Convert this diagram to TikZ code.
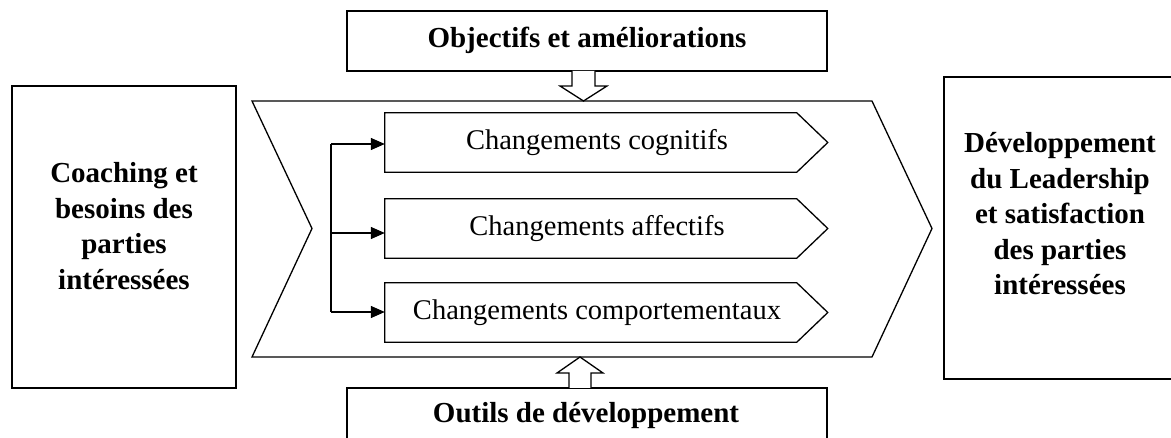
\documentclass[tikz,border=0pt]{standalone}
\usepackage{fontspec}
\setmainfont{Liberation Serif}
\usetikzlibrary{arrows.meta,calc}
\begin{document}
\begin{tikzpicture}[x=1pt,y=-1pt,
  lw/.style={line width=1.3pt},
  boxnode/.style={draw,lw,rectangle,inner sep=0pt},
  txt/.style={font=\fontsize{28.5}{35.5}\selectfont,align=center,inner sep=0pt},
  btxt/.style={txt,font=\fontsize{29}{35.5}\selectfont\bfseries},
  inner/.style={rectangle,inner sep=0pt,minimum width=424pt,minimum height=59pt,font=\fontsize{28.5}{35.5}\selectfont},
  hollow/.style={draw,lw,fill=white,line join=miter},
  arr/.style={lw,-{Triangle[length=14pt,width=12pt]}}
]
\useasboundingbox (0,0) rectangle (1171,438);
\fill[white] (0,0) rectangle (1171,438);

% outer boxes
\node[boxnode,minimum width=480pt,minimum height=60pt] (obj) at (587,41) {};
\node[btxt,anchor=base] (objt) at (587,48) {Objectifs et améliorations};
\node[boxnode,minimum width=480pt,minimum height=70pt] (out) at (587,423) {};
\node[btxt,anchor=base] (outt) at (586,423) {Outils de développement};
\node[boxnode,minimum width=224pt,minimum height=302pt] (coach) at (124,237) {};
\node[btxt] (coacht) at (124,226) {Coaching et\\besoins des\\parties\\intéressées};
\node[boxnode,minimum width=260pt,minimum height=302pt] (lead) at (1074,228) {};
\node[btxt] (leadt) at (1060,214) {Développement\\du Leadership\\et satisfaction\\des parties\\intéressées};

% big chevron
\draw[lw,line join=miter] (252,101) -- (872,101) -- (932,228.5) -- (872,357) -- (252,357) -- (312,228.5) -- cycle;
\coordinate (chevtop) at (583.5,101);
\coordinate (chevbot) at (580,357);

% inner arrow boxes
\node[inner] (cog) at (597,142.5) {Changements cognitifs};
\node[inner] (aff) at (597,228.5) {Changements affectifs};
\node[inner] (comp) at (597,312.5) {Changements comportementaux};
\foreach \n in {cog,aff,comp}{
  \draw[lw,line join=miter] (\n.north west) -- ($(\n.north west)+(412,0)$) -- ($(\n.west)+(443,0)$) -- ($(\n.south west)+(412,0)$) -- (\n.south west) -- cycle;
}

% branching connectors
\coordinate (bt) at (331,144);
\coordinate (bm) at (331,233);
\coordinate (bb) at (331,312);
\draw[lw] (bt) -- (bb);
\draw[arr] (bt) -- (cog.west |- bt);
\draw[arr] (bm) -- (aff.west |- bm);
\draw[arr] (bb) -- (comp.west |- bb);

% hollow arrows
\draw[hollow] (572,71) -- (572,86) -- (560,86) -- (chevtop) -- (607,86) -- (595,86) -- (595,71);
\draw[hollow] (569,388) -- (569,373) -- (557,373) -- (chevbot) -- (603,373) -- (591,373) -- (591,388);
\end{tikzpicture}
\end{document}
